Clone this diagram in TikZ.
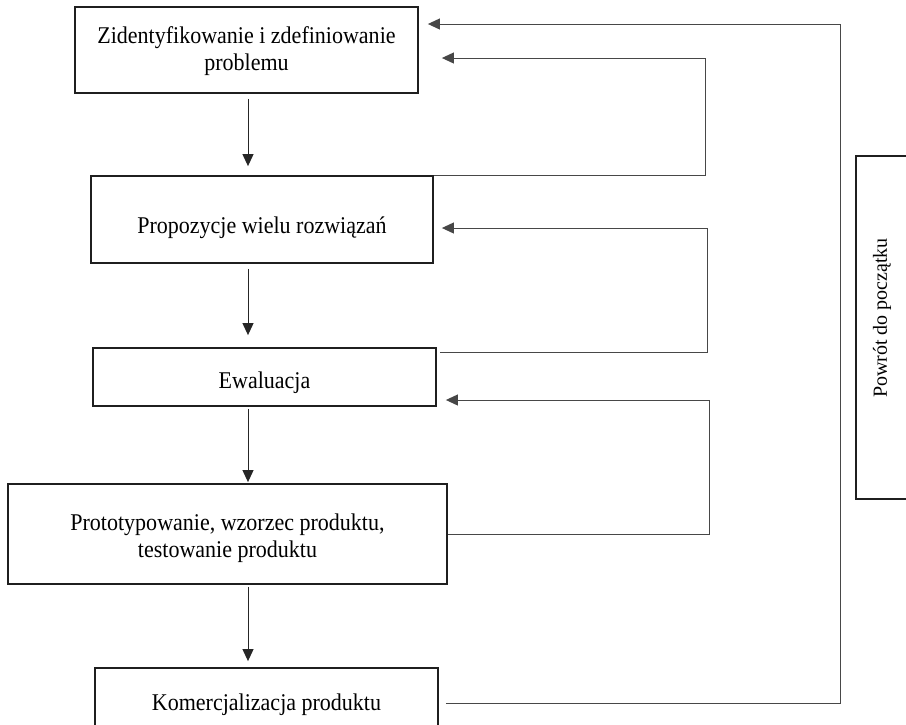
\documentclass[tikz,border=0pt]{standalone}
\usepackage{fontspec}
\setmainfont{Liberation Serif}
\newfontfamily\boxfont[FakeStretch=0.917]{Liberation Serif}
\usetikzlibrary{arrows.meta}
\begin{document}
\begin{tikzpicture}[x=1pt,y=-1pt,
  box/.style={draw=black!88, line width=1.8pt, inner sep=0pt, align=center,
    font=\boxfont\fontsize{24}{27}\selectfont},
  tipstyle/.style={-{Triangle[length=12pt,width=11pt]}},
  arr/.style={draw=black!85, line width=1pt, tipstyle},
  fb/.style={draw=black!72, line width=1pt, tipstyle}]
\clip (0,0) rectangle (906,724);
\fill[white] (0,0) rectangle (906,724);
% process boxes
\node[box, minimum width=343, minimum height=86, text height=43pt, text depth=3pt] (b1) at (246.5,50) {Zidentyfikowanie i zdefiniowanie\\problemu};
\node[box, minimum width=342, minimum height=87, text height=30pt, text depth=3pt] (b2) at (262,219.5) {Propozycje wielu rozwiązań};
\node[box, minimum width=343, minimum height=58, text height=25pt, text depth=3pt] (b3) at (264.5,377) {Ewaluacja};
\node[box, minimum width=439, minimum height=100, text height=49pt, text depth=3pt] (b4) at (227.5,534) {Prototypowanie, wzorzec produktu,\\testowanie produktu};
\node[box, minimum width=343, minimum height=70, text height=17pt, text depth=3pt] (b5) at (266.5,703) {Komercjalizacja produktu};
% side box
\node[draw=black!88, line width=1.8pt, inner sep=0pt, minimum width=80, minimum height=343] (rb) at (896,327.5) {};
\node[rotate=90, inner sep=0pt, font=\fontsize{20}{24}\selectfont] (rt) at (882,318) {Powrót do początku};
% helper coordinates
\coordinate (ax) at (248,0);
\coordinate (r0) at (840,0);
\coordinate (r1) at (705,0);
\coordinate (r2) at (707,0);
\coordinate (r3) at (709,0);
\coordinate (y0) at (0,24);
\coordinate (y1) at (0,58);
\coordinate (y2) at (0,228);
\coordinate (y3) at (0,400);
% down arrows
\draw[arr, shorten <=5pt, shorten >=9pt] (b1.south -| ax) -- (b2.north -| ax);
\draw[arr, shorten <=5pt, shorten >=12pt] (b2.south -| ax) -- (b3.north -| ax);
\draw[arr, shorten <=2pt, shorten >=1pt] (b3.south -| ax) -- (b4.north -| ax);
\draw[arr, shorten <=2pt, shorten >=6pt] (b4.south -| ax) -- (b5.north -| ax);
% feedback loops
\draw[fb, shorten <=7pt, shorten >=9pt] (b5.east) -- (b5.east -| r0) -- (r0 |- y0) -- (y0 -| b1.east);
\draw[fb, shorten >=23pt] (b2.north east) -- (b2.north east -| r1) -- (r1 |- y1) -- (y1 -| b1.east);
\draw[fb, shorten <=3pt, shorten >=8pt] ([yshift=-5pt]b3.north east) -- ([yshift=-5pt]b3.north east -| r2) -- (r2 |- y2) -- (y2 -| b2.east);
\draw[fb, shorten >=9pt] (b4.east) -- (b4.east -| r3) -- (r3 |- y3) -- (y3 -| b3.east);
\end{tikzpicture}
\end{document}
